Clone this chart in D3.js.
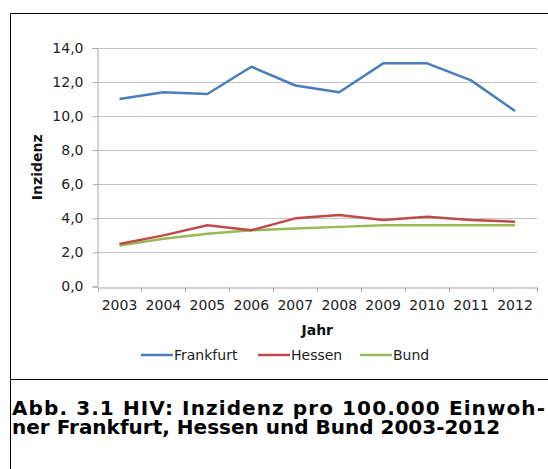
<!DOCTYPE html>
<html>
<head>
<meta charset="utf-8">
<script src="https://cdn.jsdelivr.net/npm/d3@7"></script>
<style>
  html, body { margin: 0; padding: 0; background: #fff; }
  svg { display: block; }
  text { font-family: "DejaVu Sans", Verdana, sans-serif; }
</style>
</head>
<body>
<svg id="chart" width="548" height="469"></svg>
<script>
const years = ["2003","2004","2005","2006","2007","2008","2009","2010","2011","2012"];
const frankfurt = [11.0, 11.4, 11.3, 12.9, 11.8, 11.4, 13.1, 13.1, 12.1, 10.3];
const hessen    = [2.5, 3.0, 3.6, 3.3, 4.0, 4.2, 3.9, 4.1, 3.9, 3.8];
const bund      = [2.4, 2.8, 3.1, 3.3, 3.4, 3.5, 3.6, 3.6, 3.6, 3.6];
const seriesNames = ["Frankfurt", "Hessen", "Bund"];
const seriesColors = ["#4a7ebb", "#be4b48", "#98b954"];
const yTicks = [0, 2, 4, 6, 8, 10, 12, 14];
const captionLines = ["Abb. 3.1 HIV: Inzidenz pro 100.000 Einwoh-", "ner Frankfurt, Hessen und Bund 2003-2012"];

(function () {
const seriesData = [frankfurt, hessen, bund];
const svg = d3.select("#chart");

// frame
svg.append("line").attr("x1", 10.5).attr("x2", 548).attr("y1", 13.5).attr("y2", 13.5).attr("stroke", "#000");
svg.append("line").attr("x1", 10.5).attr("x2", 10.5).attr("y1", 13.5).attr("y2", 469).attr("stroke", "#000");
svg.append("line").attr("x1", 10.5).attr("x2", 548).attr("y1", 379.5).attr("y2", 379.5).attr("stroke", "#000");

const pLeft = 97.5, pRight = 537, pTop = 48, pBottom = 286.5;
const x = d3.scaleBand().domain(years).range([pLeft, pRight]);
const y = d3.scaleLinear().domain([0, 14]).range([pBottom, pTop]);

// gridlines
svg.append("g").selectAll("line").data(yTicks.filter(d => d > 0)).join("line")
  .attr("x1", pLeft).attr("x2", pRight)
  .attr("y1", d => Math.round(y(d)) + 0.5).attr("y2", d => Math.round(y(d)) + 0.5)
  .attr("stroke", "#c4c4c4").attr("stroke-width", 1);

// y axis
const yAxis = d3.axisLeft(y).tickValues(yTicks).tickSize(5).tickPadding(9)
  .tickFormat(d => d3.format(".1f")(d).replace(".", ","));
const gy = svg.append("g").attr("transform", `translate(${pLeft},0)`).call(yAxis);
gy.select(".domain").attr("stroke", "#a8a8a8");
gy.selectAll(".tick line").attr("stroke", "#a8a8a8");
gy.selectAll(".tick text").attr("font-size", 14).attr("fill", "#222")
  .attr("font-family", "DejaVu Sans, Verdana, sans-serif");

// x axis
const xAxis = d3.axisBottom(x).tickSize(0).tickPadding(13);
const gx = svg.append("g").attr("transform", `translate(0,${Math.round(pBottom) + 0.5})`).call(xAxis);
gx.select(".domain").attr("stroke", "#a8a8a8");
gx.selectAll(".tick text").attr("font-size", 14).attr("fill", "#222")
  .attr("font-family", "DejaVu Sans, Verdana, sans-serif");
// boundary ticks
const bounds = years.map(d => x(d)).concat([x(years[years.length - 1]) + x.bandwidth()]);
svg.append("g").selectAll("line").data(bounds).join("line")
  .attr("x1", d => Math.round(d) + 0.5).attr("x2", d => Math.round(d) + 0.5)
  .attr("y1", Math.round(pBottom) + 0.5).attr("y2", Math.round(pBottom) + 5)
  .attr("stroke", "#a8a8a8");

// lines
const line = d3.line().x((d, i) => x(years[i]) + x.bandwidth() / 2).y(d => y(d));
[2, 1, 0].forEach(i => {
  svg.append("path").datum(seriesData[i]).attr("d", line)
    .attr("fill", "none").attr("stroke", seriesColors[i]).attr("stroke-width", 2.5)
    .attr("stroke-linejoin", "round").attr("stroke-linecap", "butt");
});

// axis titles
svg.append("text").attr("x", (pLeft + pRight) / 2).attr("y", 335).attr("text-anchor", "middle")
  .attr("font-size", 14).attr("font-weight", "bold").attr("fill", "#111").text("Jahr");
svg.append("text").attr("transform", `translate(42,${(pTop + pBottom) / 2}) rotate(-90)`)
  .attr("text-anchor", "middle").attr("font-size", 14).attr("font-weight", "bold")
  .attr("fill", "#111").text("Inzidenz");

// legend
const legendX = [141, 258, 360];
seriesNames.forEach((name, i) => {
  const g = svg.append("g").attr("transform", `translate(${legendX[i]},355)`);
  g.append("line").attr("x1", 0).attr("x2", 32).attr("y1", 0).attr("y2", 0)
    .attr("stroke", seriesColors[i]).attr("stroke-width", 2.5);
  g.append("text").attr("x", 33).attr("y", 5).attr("font-size", 14).attr("fill", "#222").text(name);
});

// caption (one text element, two wrapped lines)
const cap = svg.append("text").attr("x", 12).attr("y", 415).attr("font-size", 20)
  .attr("font-weight", "bold").attr("fill", "#000");
captionLines.forEach((t, i) => {
  const ts = cap.append("tspan").attr("x", 12).attr("y", 415 + i * 19).text(t);
  if (i === 0) {
    const w = ts.node().getComputedTextLength();
    const target = 533;
    if (w < target) ts.attr("letter-spacing", (target - w) / (t.length - 1));
  }
});
})();
</script>
</body>
</html>
